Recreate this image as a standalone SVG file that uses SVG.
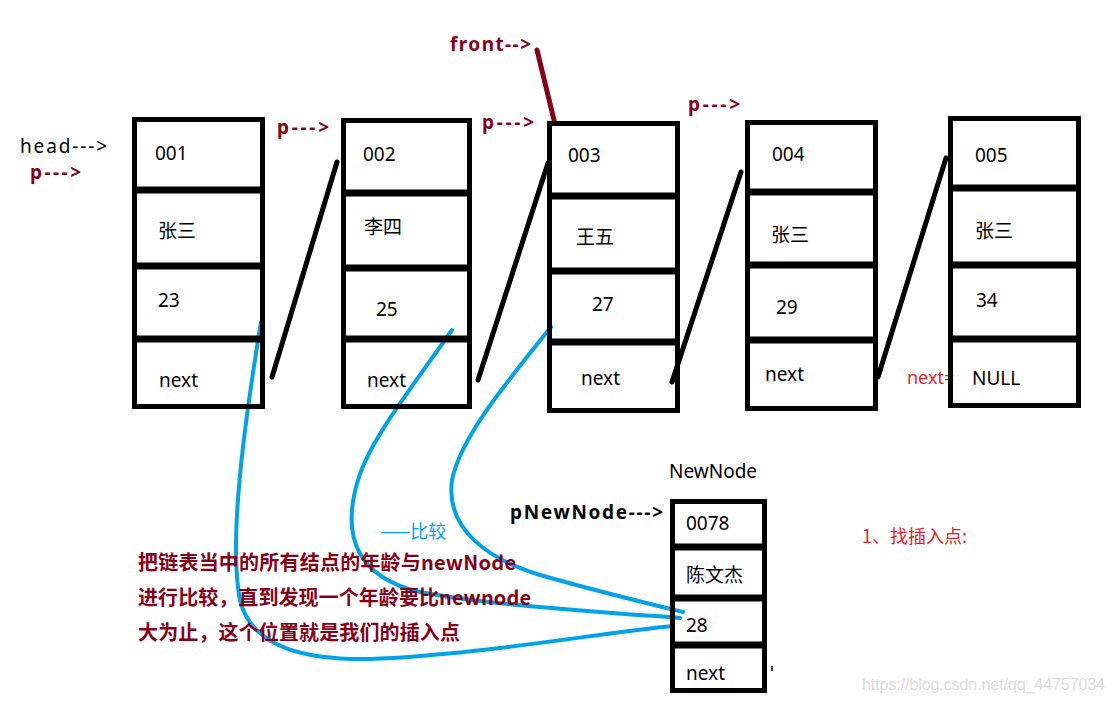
<svg xmlns="http://www.w3.org/2000/svg" width="1115" height="702" viewBox="0 0 1115 702">
<style>
.box{fill:none;stroke:#000;stroke-width:5}
.div{stroke:#000;stroke-width:7}
.t{font-family:"Noto Sans","Noto Sans CJK SC",sans-serif;font-size:19px;fill:#000}
.lbl{font-family:"Noto Sans","Noto Sans CJK SC",sans-serif;font-size:19px;font-weight:bold;fill:#880015}
.link{stroke:#000;stroke-width:5;stroke-linecap:round}
.blue{fill:none;stroke:#00a2e8;stroke-width:4;stroke-linecap:round}
.note{font-family:"Noto Sans CJK SC","Noto Sans",sans-serif;font-size:20px;font-weight:bold;fill:#880015}
</style>
<rect width="1115" height="702" fill="#fff"/>
<g id="connectors">
<line class="link" x1="272" y1="377" x2="337" y2="162"/>
<line class="link" x1="478" y1="380" x2="548" y2="163"/>
<line class="link" x1="672" y1="382" x2="741" y2="172"/>
<line class="link" x1="878" y1="377" x2="946" y2="158"/>
<line x1="537" y1="50" x2="554" y2="120" stroke="#880015" stroke-width="5" stroke-linecap="round"/>
<path class="blue" d="M261,322 C 245,420 228,540 240,600 C 252,650 310,660 370,659 C 470,656 600,633 673,626"/>
<path class="blue" d="M452,330 C 410,390 370,440 358,480 C 340,540 360,578 420,592 C 480,604 600,612 680,618"/>
<path class="blue" d="M551,327 C 500,390 460,440 452,480 C 445,530 490,560 540,575 C 600,592 650,604 683,612"/>
</g>
<g id="labels">
<text class="t" x="20" y="153" textLength="87">head---&gt;</text>
<text class="lbl" x="30" y="179" textLength="51">p---&gt;</text>
<text class="lbl" x="277" y="134" textLength="52">p---&gt;</text>
<text class="lbl" x="482" y="129" textLength="52">p---&gt;</text>
<text class="lbl" x="688" y="111" textLength="52">p---&gt;</text>
<text class="lbl" x="450" y="51" textLength="81">front--&gt;</text>
<text class="t" x="669" y="478">NewNode</text>
<text class="t" x="510" y="519" font-weight="bold" textLength="153">pNewNode---&gt;</text>
<text x="907" y="384" font-family="Noto Sans,sans-serif" font-size="18" fill="#ed1c24">next=</text>
<text x="380" y="538" font-family="Noto Sans CJK SC,sans-serif" font-size="18" fill="#00a2e8">——比较</text>
<text class="note" x="138" y="570" textLength="378">把链表当中的所有结点的年龄与newNode</text>
<text class="note" x="138" y="605" textLength="393">进行比较，直到发现一个年龄要比newnode</text>
<text class="note" x="138" y="640" textLength="322">大为止，这个位置就是我们的插入点</text>
<text x="862" y="543" font-family="Noto Sans CJK SC,sans-serif" font-size="18" fill="#ed1c24">1、找插入点:</text>
<text x="862" y="690" font-family="Liberation Sans,Arial,sans-serif" font-size="16" fill="#dcdcdc" textLength="243">https://blog.csdn.net/qq_44757034</text>
</g>
<g id="node1">
<rect class="box" x="134.5" y="119.5" width="128" height="287"/>
<line class="div" x1="132" y1="190" x2="265" y2="190"/>
<line class="div" x1="132" y1="266" x2="265" y2="266"/>
<line class="div" x1="132" y1="339" x2="265" y2="339"/>
<text class="t" x="155" y="160">001</text>
<text class="t" x="158" y="238">张三</text>
<text class="t" x="158" y="307">23</text>
<text class="t" x="159" y="387">next</text>
</g>
<g id="node2">
<rect class="box" x="343.5" y="120.5" width="126" height="286"/>
<line class="div" x1="341" y1="193" x2="472" y2="193"/>
<line class="div" x1="341" y1="268" x2="472" y2="268"/>
<line class="div" x1="341" y1="339" x2="472" y2="339"/>
<text class="t" x="363" y="161">002</text>
<text class="t" x="364" y="234">李四</text>
<text class="t" x="376" y="316">25</text>
<text class="t" x="367" y="387">next</text>
</g>
<g id="node3">
<rect class="box" x="549.5" y="123.5" width="128" height="287"/>
<line class="div" x1="547" y1="196" x2="680" y2="196"/>
<line class="div" x1="547" y1="271" x2="680" y2="271"/>
<line class="div" x1="547" y1="342" x2="680" y2="342"/>
<text class="t" x="568" y="162">003</text>
<text class="t" x="576" y="244">王五</text>
<text class="t" x="592" y="311">27</text>
<text class="t" x="581" y="385">next</text>
</g>
<g id="node4">
<rect class="box" x="747.5" y="122.5" width="128" height="286"/>
<line class="div" x1="745" y1="192" x2="878" y2="192"/>
<line class="div" x1="745" y1="265" x2="878" y2="265"/>
<line class="div" x1="745" y1="340" x2="878" y2="340"/>
<text class="t" x="772" y="161">004</text>
<text class="t" x="771" y="242">张三</text>
<text class="t" x="776" y="314">29</text>
<text class="t" x="765" y="381">next</text>
</g>
<g id="node5">
<rect class="box" x="950.5" y="118.5" width="128" height="287"/>
<line class="div" x1="948" y1="188" x2="1081" y2="188"/>
<line class="div" x1="948" y1="265" x2="1081" y2="265"/>
<line class="div" x1="948" y1="339" x2="1081" y2="339"/>
<text class="t" x="975" y="162">005</text>
<text class="t" x="975" y="238">张三</text>
<text class="t" x="976" y="307">34</text>
<text class="t" x="972" y="385">NULL</text>
</g>
<g id="newnode">
<rect class="box" x="672.5" y="501.5" width="92" height="189"/>
<line class="div" x1="670" y1="547" x2="767" y2="547"/>
<line class="div" x1="670" y1="598" x2="767" y2="598"/>
<line class="div" x1="670" y1="645" x2="767" y2="645"/>
<text class="t" x="686" y="530">0078</text>
<text class="t" x="686" y="582">陈文杰</text>
<text class="t" x="686" y="632">28</text>
<text class="t" x="686" y="680">next</text>
<line x1="772" y1="666" x2="772" y2="671" stroke="#000" stroke-width="1.5"/>
</g>
</svg>
